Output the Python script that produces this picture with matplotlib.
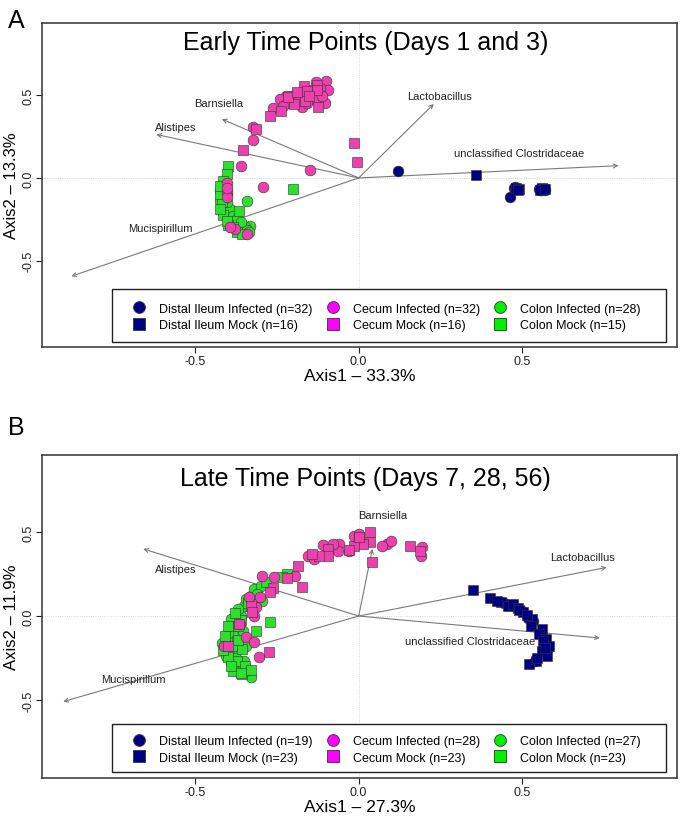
import numpy as np
import matplotlib.pyplot as plt
from matplotlib.lines import Line2D
from matplotlib.patches import Rectangle

plt.rcParams['font.family'] = ['Liberation Sans', 'DejaVu Sans']

NAVY = '#000080'
PINK = '#ee3fae'
GREEN = '#2ee02e'
ARROW = '#7a7a7a'

# ---------------- Panel A: early time points ----------------
a_di_inf = [(0.119, 0.044), (0.475, -0.062), (0.485, -0.066), (0.465, -0.113), (0.556, -0.070),
            (0.566, -0.066), (0.560, -0.075), (0.480, -0.055), (0.570, -0.072), (0.552, -0.064)]
a_di_mock = [(0.358, 0.018), (0.482, -0.058), (0.492, -0.064), (0.562, -0.062), (0.568, -0.068),
             (0.555, -0.074), (0.488, -0.070), (0.572, -0.064)]
a_ce_inf = [(-0.131, 0.580), (-0.099, 0.584), (-0.093, 0.530), (-0.104, 0.452), (-0.136, 0.476),
            (-0.146, 0.530), (-0.174, 0.506), (-0.192, 0.506), (-0.207, 0.496), (-0.224, 0.496),
            (-0.242, 0.476), (-0.220, 0.452), (-0.196, 0.476), (-0.174, 0.426), (-0.263, 0.420),
            (-0.157, 0.452), (-0.117, 0.540), (-0.323, 0.305), (-0.325, 0.231), (-0.361, 0.074),
            (-0.148, 0.050), (-0.293, -0.052), (-0.404, -0.032), (-0.404, -0.082), (-0.404, -0.116),
            (-0.379, -0.311), (-0.343, -0.337), (-0.394, -0.297), (-0.404, -0.060), (-0.185, 0.466),
            (-0.112, 0.496), (-0.233, 0.435)]
a_ce_mock = [(-0.167, 0.556), (-0.129, 0.560), (-0.158, 0.522), (-0.129, 0.532), (-0.197, 0.446),
             (-0.165, 0.466), (-0.237, 0.405), (-0.273, 0.372), (-0.126, 0.426), (-0.216, 0.486),
             (-0.313, 0.295), (-0.354, 0.171), (-0.015, 0.211), (-0.005, 0.094), (-0.189, 0.516),
             (-0.152, 0.496)]
a_co_inf = [(-0.343, -0.141), (-0.333, -0.287), (-0.348, -0.295), (-0.419, -0.116), (-0.414, -0.167),
            (-0.406, -0.207), (-0.394, -0.243), (-0.379, -0.267), (-0.364, -0.287), (-0.424, -0.076),
            (-0.410, -0.036), (-0.426, -0.137), (-0.416, -0.187), (-0.399, -0.227), (-0.384, -0.250),
            (-0.369, -0.277), (-0.354, -0.307), (-0.343, -0.317), (-0.335, -0.327), (-0.409, -0.076),
            (-0.419, -0.086), (-0.402, -0.096), (-0.394, -0.187), (-0.384, -0.227), (-0.374, -0.247),
            (-0.359, -0.263), (-0.404, -0.147), (-0.414, -0.126)]
a_co_mock = [(-0.399, 0.074), (-0.404, 0.024), (-0.416, -0.016), (-0.419, -0.147), (-0.416, -0.223),
             (-0.366, -0.197), (-0.202, -0.066), (-0.372, -0.327), (-0.399, -0.283), (-0.426, -0.096),
             (-0.424, -0.187), (-0.404, -0.257), (-0.384, -0.297), (-0.426, -0.046), (-0.358, -0.337)]
a_arrows = {'unclassified Clostridaceae': ((0.796, 0.074), (0.49, 0.149)),
            'Lactobacillus': ((0.230, 0.446), (0.248, 0.494)),
            'Barnsiella': ((-0.419, 0.355), (-0.429, 0.452)),
            'Alistipes': ((-0.620, 0.262), (-0.560, 0.307)),
            'Mucispirillum': ((-0.880, -0.593), (-0.606, -0.300))}
a_counts = [32, 16, 32, 16, 28, 15]

# ---------------- Panel B: late time points ----------------
b_di_inf = [(0.470, 0.065), (0.500, 0.030), (0.535, -0.030), (0.555, -0.100), (0.575, -0.160),
            (0.565, -0.215), (0.540, -0.265), (0.445, 0.075), (0.580, -0.190), (0.520, -0.010)]
b_di_mock = [(0.350, 0.157), (0.401, 0.105), (0.436, 0.081), (0.457, 0.058), (0.472, 0.071),
             (0.487, 0.046), (0.502, 0.022), (0.532, -0.018), (0.527, -0.058), (0.563, -0.077),
             (0.552, -0.107), (0.573, -0.137), (0.583, -0.177), (0.563, -0.206), (0.578, -0.236),
             (0.542, -0.266), (0.522, -0.286), (0.545, -0.250), (0.565, -0.150), (0.490, 0.035),
             (0.515, 0.005), (0.570, -0.190), (0.425, 0.090)]
b_ce_inf = [(-0.109, 0.423), (-0.089, 0.399), (-0.059, 0.429), (-0.064, 0.387), (-0.013, 0.478),
            (0.002, 0.488), (0.000, 0.458), (0.088, 0.429), (0.100, 0.449), (0.194, 0.409),
            (0.192, 0.357), (-0.155, 0.355), (-0.137, 0.339), (-0.195, 0.240), (-0.258, 0.234),
            (-0.301, 0.111), (-0.336, 0.111), (-0.316, 0.052), (-0.321, 0.002), (-0.364, -0.048),
            (-0.346, -0.127), (-0.321, -0.157), (-0.412, -0.177), (-0.306, -0.246), (-0.296, 0.240),
            (-0.080, 0.429), (-0.029, 0.387), (0.070, 0.420)]
b_ce_mock = [(0.035, 0.498), (0.034, 0.440), (0.012, 0.429), (-0.015, 0.420), (-0.030, 0.395),
             (-0.094, 0.399), (-0.094, 0.359), (-0.121, 0.355), (0.040, 0.323), (0.157, 0.420),
             (0.189, 0.385), (-0.185, 0.296), (-0.220, 0.224), (-0.175, 0.171), (-0.263, 0.167),
             (-0.271, 0.141), (-0.331, 0.061), (-0.326, 0.026), (-0.366, -0.048), (-0.399, -0.181),
             (-0.276, -0.216), (0.002, 0.468), (-0.142, 0.369)]
b_co_inf = [(-0.331, 0.121), (-0.295, 0.091), (-0.351, 0.061), (-0.320, 0.160), (-0.300, 0.180),
            (-0.392, -0.077), (-0.382, -0.117), (-0.402, -0.137), (-0.377, -0.206), (-0.407, -0.236),
            (-0.361, -0.157), (-0.331, -0.365), (-0.346, -0.177), (-0.360, 0.000), (-0.390, -0.020),
            (-0.400, -0.100), (-0.420, -0.160), (-0.395, -0.190), (-0.375, -0.250), (-0.350, -0.270),
            (-0.340, -0.320), (-0.370, -0.330), (-0.390, -0.280), (-0.355, -0.090), (-0.370, 0.040),
            (-0.345, 0.100), (-0.310, 0.130)]
b_co_mock = [(-0.220, 0.250), (-0.235, 0.230), (-0.285, 0.200), (-0.271, -0.038), (-0.316, -0.087),
             (-0.360, -0.024), (-0.387, -0.177), (-0.358, -0.196), (-0.374, -0.266), (-0.399, -0.246),
             (-0.348, -0.296), (-0.384, -0.327), (-0.358, -0.345), (-0.340, 0.080), (-0.380, 0.020),
             (-0.400, -0.060), (-0.410, -0.120), (-0.370, -0.140), (-0.390, -0.300), (-0.360, -0.340),
             (-0.330, -0.320), (-0.415, -0.200), (-0.370, -0.060)]
b_arrows = {'unclassified Clostridaceae': ((0.739, -0.131), (0.340, -0.147)),
            'Lactobacillus': ((0.760, 0.290), (0.686, 0.353)),
            'Barnsiella': ((0.042, 0.400), (0.073, 0.600)),
            'Alistipes': ((-0.660, 0.400), (-0.560, 0.280)),
            'Mucispirillum': ((-0.905, -0.510), (-0.690, -0.375))}
b_counts = [19, 23, 28, 23, 27, 23]

group_names = ['Distal Ileum Infected', 'Distal Ileum Mock', 'Cecum Infected',
               'Cecum Mock', 'Colon Infected', 'Colon Mock']


def pts(lst):
    a = np.array(lst)
    return a[:, 0], a[:, 1]


def panel(ax, groups, arrows, counts, title, title_y, xlab, ylab, ylim, frame_box, leg_y):
    ax.set_xlim(-0.97, 0.975)
    ax.set_ylim(*ylim)
    ax.axhline(0, color='#cccccc', lw=0.6, ls=':', zorder=0)
    ax.axvline(0, color='#cccccc', lw=0.6, ls=':', zorder=0)
    for name, (head, lab) in arrows.items():
        ax.annotate('', xy=head, xytext=(0, 0),
                    arrowprops=dict(arrowstyle='->', color=ARROW, lw=0.8,
                                    shrinkA=0, shrinkB=0, mutation_scale=7), zorder=1)
        ax.text(lab[0], lab[1], name, fontsize=8, ha='center', va='center', color='#222222')
    di_inf, di_mock, ce_inf, ce_mock, co_inf, co_mock = groups
    for data, col, mk, s in [(co_inf, GREEN, 'o', 60), (co_mock, GREEN, 's', 50),
                             (ce_inf, PINK, 'o', 60), (ce_mock, PINK, 's', 50),
                             (di_inf, NAVY, 'o', 60), (di_mock, NAVY, 's', 50)]:
        x, y = pts(data)
        ax.scatter(x, y, s=s, marker=mk, c=col, edgecolors='#333333', linewidths=0.4, zorder=3)

    ax.text(0.51, title_y, title, fontsize=18, ha='center', va='center', transform=ax.transAxes)
    ax.set_xticks([-0.5, 0, 0.5], labels=['-0.5', '0.0', '0.5'])
    ax.set_yticks([-0.5, 0, 0.5], labels=['-0.5', '0.0', '0.5'])
    ax.tick_params(labelsize=9, length=4, width=0.8, pad=1.5, colors='#222222')
    for lbl in ax.get_yticklabels():
        lbl.set_rotation(90)
        lbl.set_va('center')
    ax.set_xlabel(xlab, fontsize=12.5)
    ax.set_ylabel(ylab, fontsize=12)
    ax.xaxis.set_label_coords(0.5, -0.065)
    ax.yaxis.set_label_coords(-0.036, 0.5)
    for sp in ax.spines.values():
        sp.set_color('#333333')
        sp.set_linewidth(1.1)

    # legend: frame drawn separately, entries centred inside it
    ax.add_patch(Rectangle(frame_box[:2], frame_box[2], frame_box[3], transform=ax.transAxes,
                           fill=True, facecolor='white', edgecolor='#222222', lw=1.0, zorder=4))
    cols = [NAVY, NAVY, '#ff00ff', '#ff00ff', '#00ee00', '#00ee00']
    marks = ['o', 's', 'o', 's', 'o', 's']
    handles = [Line2D([], [], ls='', marker=m, color=c, markeredgecolor='#333333',
                      markeredgewidth=0.6, markersize=8.5 if m == 'o' else 8)
               for m, c in zip(marks, cols)]
    texts = [f'{l} (n={n})' for l, n in zip(group_names, counts)]
    leg = ax.legend(handles, texts, ncol=3, loc='center', bbox_to_anchor=(0.542, leg_y),
                    fontsize=9, frameon=False, borderpad=0.0, handletextpad=1.0,
                    labelspacing=0.35, columnspacing=1.0, handlelength=1.2)
    leg.set_zorder(5)


fig = plt.figure(figsize=(6.85, 8.2), dpi=100)
axA = fig.add_axes([0.0613, 0.5756, 0.927, 0.395])
axB = fig.add_axes([0.0613, 0.050, 0.927, 0.394])

panel(axA, [a_di_inf, a_di_mock, a_ce_inf, a_ce_mock, a_co_inf, a_co_mock], a_arrows, a_counts,
      'Early Time Points (Days 1 and 3)', 0.941, 'Axis1 \u2013 33.3%', 'Axis2 \u2013 13.3%',
      (-1.02, 0.934), (0.11, 0.015, 0.872, 0.164), 0.0926)
panel(axB, [b_di_inf, b_di_mock, b_ce_inf, b_ce_mock, b_co_inf, b_co_mock], b_arrows, b_counts,
      'Late Time Points (Days 7, 28, 56)', 0.93, 'Axis1 \u2013 27.3%', 'Axis2 \u2013 11.9%',
      (-0.965, 0.96), (0.11, 0.019, 0.872, 0.149), 0.088)

fig.text(0.012, 0.975, 'A', fontsize=18, va='center')
fig.text(0.012, 0.478, 'B', fontsize=18, va='center')

fig.savefig('out.png', dpi=100)
